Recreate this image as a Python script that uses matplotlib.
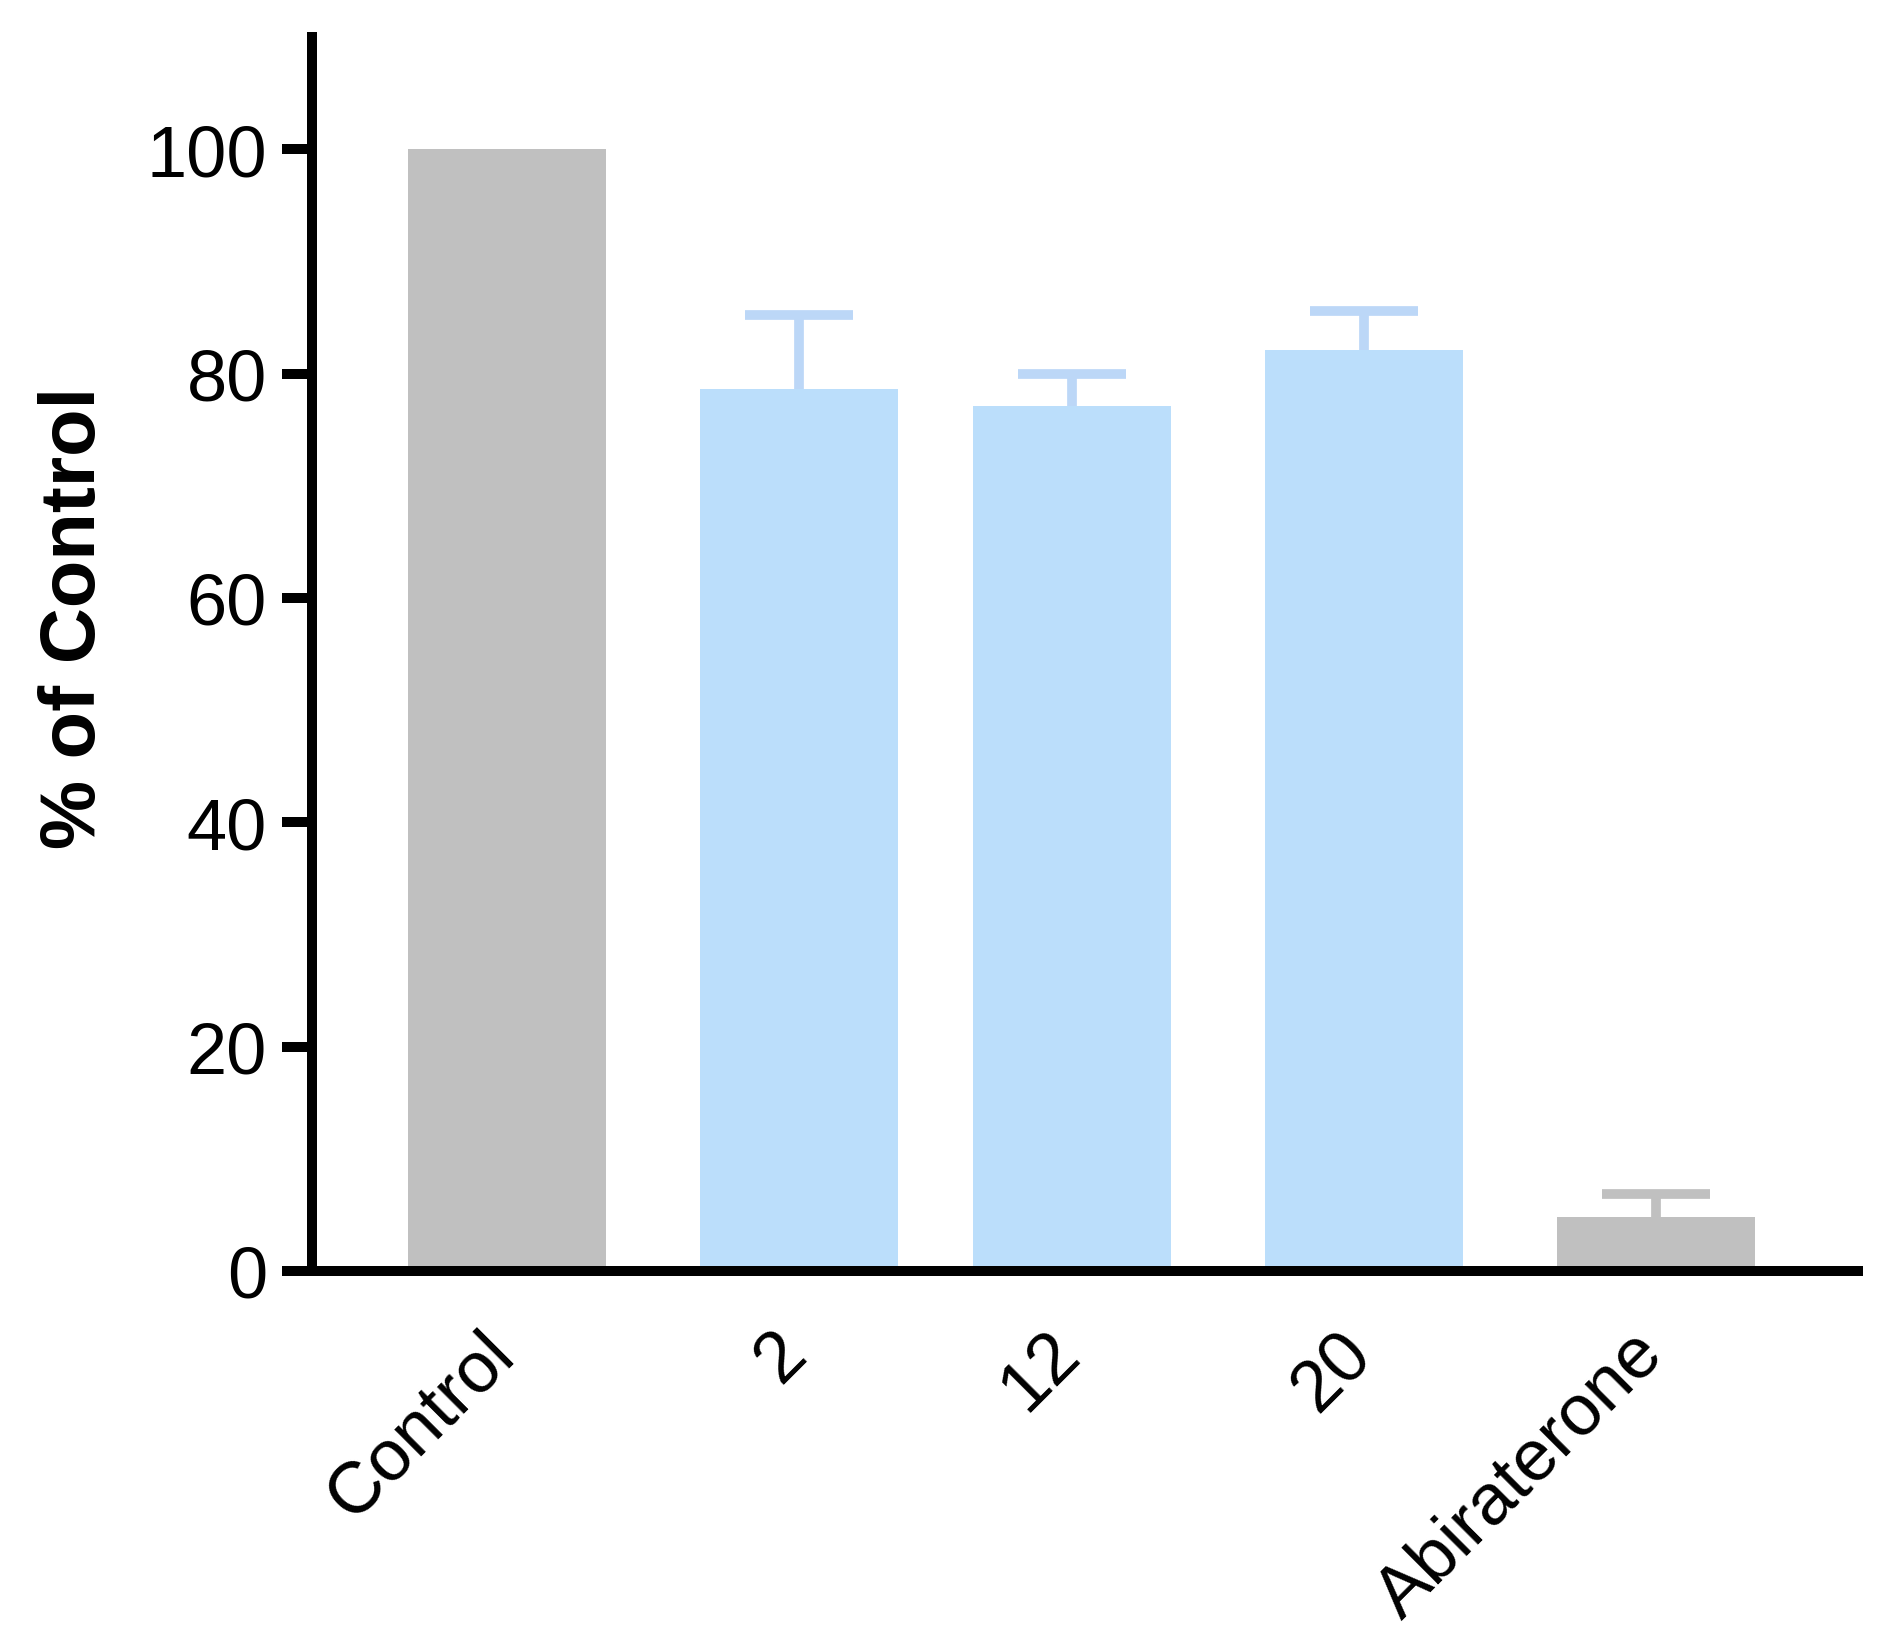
import numpy as np
import matplotlib
matplotlib.use("Agg")
import matplotlib.pyplot as plt
from matplotlib.transforms import ScaledTranslation

# --- data ---
groups = ["Control", "2", "12", "20", "Abiraterone"]
pct_of_control = [100.0, 78.6, 77.1, 82.1, 4.8]
sem = [0.0, 6.6, 2.9, 3.5, 2.1]

# --- styling ---
grey = "#C0C0C0"
blue = "#BBDEFB"
blue_err = "#BCD7F7"
bar_colors = [grey, blue, blue, blue, grey]
err_colors = [grey, blue_err, blue_err, blue_err, grey]
xpos = [0, 1, 1.935, 2.935, 3.935]

plt.rcParams["font.family"] = ["Liberation Sans", "DejaVu Sans"]

fig = plt.figure(figsize=(18.82, 16.4), dpi=100)
ax = fig.add_axes([0.1658, 0.2244, 0.8214, 0.7524])

ax.bar(xpos, pct_of_control, width=0.68, color=bar_colors, zorder=1)
for x, y, e, c in zip(xpos, pct_of_control, sem, err_colors):
    if e > 0:
        _, caps, _ = ax.errorbar(x, y, yerr=[[0], [e]], fmt="none", ecolor=c,
                                 elinewidth=7, capsize=39, capthick=7, zorder=2)
        # only the upper cap is shown (one-sided SEM)
        for cap in caps:
            if np.isclose(cap.get_ydata()[0], y):
                cap.set_visible(False)

ax.set_xlim(-0.668, 4.627)
ax.set_ylim(0, 110)
ax.set_yticks(np.arange(0, 101, 20))
ax.set_xticks(xpos)
ax.set_xticklabels(groups)

for side in ["top", "right"]:
    ax.spines[side].set_visible(False)
for side in ["left", "bottom"]:
    ax.spines[side].set_linewidth(7.2)
    ax.spines[side].set_zorder(3)

ax.tick_params(axis="y", length=21.6, width=7.2, pad=10.8, labelsize=52)
ax.tick_params(axis="x", length=0, pad=61, labelsize=52)

offset = ScaledTranslation(0.10, 0, fig.dpi_scale_trans)
for lab in ax.get_xticklabels():
    lab.set_rotation(45)
    lab.set_ha("right")
    lab.set_va("baseline")
    lab.set_rotation_mode("anchor")
    lab.set_transform(lab.get_transform() + offset)

ax.set_ylabel("% of Control", fontsize=56, fontweight="bold")
ax.yaxis.set_label_coords(-0.13, 0.53)

fig.savefig("out.png", dpi=100, facecolor="white")
